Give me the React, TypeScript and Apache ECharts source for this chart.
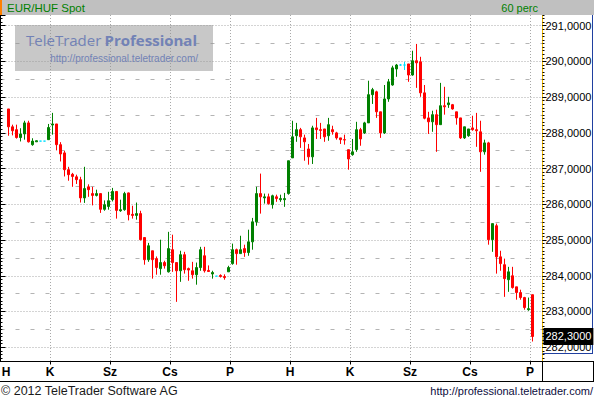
import React, { useEffect, useRef } from 'react';
import * as echarts from 'echarts';

// Hungarian weekday initials of the days covered (first one only partially visible)
const dayNames = ['H', 'K', 'Sz', 'Cs', 'P', 'H', 'K', 'Sz', 'Cs', 'P'];
const hoursPerDay = 15;
const firstCandleHour = 4; // the first visible 60-min candle is the 5th hour of day 0

const opens = [
  288.67, 288.17, 288.09, 287.87, 287.97, 288.28, 287.67, 287.75, 287.77, 287.77,
  287.81, 288.22, 288.25, 287.67, 287.44, 286.97, 286.84, 286.77, 286.69, 286.18,
  286.49, 286.30, 286.25, 286.30, 285.86, 285.94, 286.13, 286.36, 285.82, 285.85,
  286.32, 285.72, 285.69, 285.74, 285.07, 284.45, 284.70, 284.48, 284.20, 284.37,
  284.11, 284.73, 284.37, 284.14, 284.59, 284.20, 284.14, 284.03, 284.23, 284.56,
  284.15, 284.05, 283.99, 284.01, 283.98, 284.11, 284.34, 284.73, 284.62, 284.76,
  284.65, 284.95, 285.51, 286.30, 286.18, 286.21, 285.99, 286.21, 286.13, 286.13,
  286.30, 287.30, 287.92, 288.09, 287.86, 287.55, 287.33, 288.14, 288.09, 288.11,
  287.92, 288.09, 288.00, 287.86, 287.81, 287.53, 287.39, 287.53, 288.09, 288.00,
  288.28, 289.07, 289.15, 288.59, 288.00, 288.95, 289.34, 289.79, 289.90, 289.90,
  289.93, 289.62, 290.02, 289.99, 289.12, 288.42, 288.31, 288.51, 288.23, 288.76,
  288.79, 288.79, 288.59, 288.42, 287.86, 287.92, 288.14, 288.09, 288.03, 287.47,
  287.72, 285.01, 285.40, 284.53, 284.31, 283.89, 284.00, 283.69, 283.53, 283.39,
  283.05, 283.47,
];
const closes = [
  288.17, 288.06, 287.87, 287.97, 288.28, 287.75, 287.77, 287.78, 287.77, 287.77,
  288.15, 288.25, 287.67, 287.41, 286.97, 286.83, 286.78, 286.69, 286.18, 286.44,
  286.41, 286.25, 286.30, 285.86, 285.99, 286.10, 286.36, 285.83, 285.85, 286.30,
  285.71, 285.69, 285.74, 285.01, 284.45, 284.84, 284.45, 284.23, 284.37, 284.28,
  284.76, 284.37, 284.14, 284.59, 284.17, 284.16, 284.03, 284.23, 284.73, 284.14,
  284.12, 284.09, 283.99, 283.98, 283.95, 284.23, 284.73, 284.62, 284.73, 284.65,
  284.95, 285.51, 286.30, 286.21, 286.21, 286.02, 286.24, 286.16, 286.16, 286.16,
  287.22, 287.89, 288.09, 287.89, 287.75, 287.33, 288.14, 288.09, 288.07, 287.89,
  288.23, 288.03, 287.86, 287.81, 287.80, 287.27, 287.47, 288.09, 287.83, 288.28,
  289.07, 289.21, 288.59, 288.00, 288.95, 289.43, 289.82, 289.90, 289.90, 289.90,
  289.62, 290.02, 289.96, 289.12, 288.41, 288.31, 288.51, 288.23, 288.76, 288.73,
  288.84, 288.67, 288.42, 287.86, 288.17, 288.11, 288.09, 288.06, 287.47, 287.72,
  285.01, 285.46, 284.53, 284.34, 283.92, 284.11, 283.67, 283.53, 283.39, 283.11,
  283.08, 282.30,
];
const lows = [
  287.92, 287.93, 287.84, 287.76, 287.81, 287.73, 287.64, 287.75, 287.77, 287.77,
  287.80, 287.95, 287.51, 287.20, 286.78, 286.66, 286.49, 286.57, 286.05, 286.04,
  286.21, 285.97, 286.22, 285.76, 285.82, 285.85, 286.08, 285.60, 285.79, 285.82,
  285.55, 285.60, 285.57, 284.99, 284.31, 284.39, 283.92, 284.03, 284.03, 284.20,
  284.09, 284.11, 283.27, 283.83, 284.06, 283.86, 283.92, 283.75, 284.14, 284.09,
  284.12, 283.92, 283.99, 283.95, 283.89, 284.11, 284.31, 284.31, 284.62, 284.53,
  284.56, 284.73, 285.40, 285.74, 286.02, 285.99, 285.88, 286.07, 286.07, 285.93,
  286.27, 287.30, 287.75, 287.58, 287.22, 287.11, 287.13, 287.83, 287.83, 287.75,
  287.78, 287.95, 287.81, 287.69, 287.67, 286.97, 287.36, 287.47, 287.64, 287.97,
  288.28, 288.81, 288.42, 287.86, 287.97, 288.87, 289.32, 289.57, 289.88, 289.76,
  289.43, 289.60, 289.26, 289.01, 288.38, 287.97, 288.03, 287.47, 288.23, 288.51,
  288.70, 288.65, 288.23, 287.83, 287.83, 287.89, 288.06, 287.61, 286.91, 287.39,
  284.87, 284.67, 284.06, 284.14, 283.41, 283.55, 283.64, 283.33, 283.33, 283.05,
  283.02, 282.16,
];
const highs = [
  288.67, 288.23, 288.23, 288.13, 288.34, 288.34, 287.85, 287.79, 287.77, 287.77,
  288.25, 288.56, 288.25, 287.74, 287.50, 287.05, 286.88, 286.83, 286.77, 287.05,
  286.56, 286.49, 286.41, 286.30, 286.11, 286.35, 286.46, 286.36, 286.13, 286.35,
  286.33, 285.96, 286.05, 285.82, 285.07, 284.92, 284.70, 284.54, 285.01, 284.42,
  285.23, 285.15, 284.37, 284.70, 284.67, 284.23, 284.39, 284.37, 284.81, 284.81,
  284.29, 284.14, 283.99, 284.04, 284.04, 284.28, 284.90, 284.76, 285.12, 284.87,
  285.29, 285.62, 286.49, 286.86, 286.30, 286.30, 286.27, 286.27, 286.27, 286.32,
  287.22, 288.34, 288.28, 288.14, 287.95, 287.69, 288.20, 288.42, 288.28, 288.11,
  288.42, 288.20, 288.03, 287.86, 287.95, 287.53, 287.83, 288.31, 288.14, 288.31,
  289.46, 289.26, 289.18, 288.59, 289.34, 289.51, 289.88, 289.93, 289.93, 289.99,
  289.93, 290.30, 290.49, 290.13, 289.34, 288.59, 288.62, 288.65, 289.40, 289.29,
  289.01, 288.81, 288.59, 288.42, 288.17, 288.11, 288.48, 288.56, 288.34, 287.81,
  287.75, 285.46, 285.46, 284.70, 284.48, 284.25, 284.25, 283.69, 283.61, 283.41,
  283.39, 283.47,
];

const yMin = 281.6;
const yMax = 291.3;

const FONT = "'Liberation Sans', Arial, sans-serif";
const fmt = (v: number) => v.toFixed(4).replace('.', ',');

const labelFor = (k: number): string => {
  if (k === 0) return dayNames[0];
  if (k > 0 && (k + firstCandleHour) % hoursPerDay === 0) {
    const d = (k + firstCandleHour) / hoursPerDay;
    return dayNames[d] || '';
  }
  return '';
};
const isDayStart = (k: number) => k > 0 && (k + firstCandleHour) % hoursPerDay === 0;

export default function App() {
  const ref = useRef<HTMLDivElement>(null);

  useEffect(() => {
    if (!ref.current) return;
    const chart = echarts.init(ref.current, undefined, { renderer: 'svg' });

    const n = opens.length;
    // one empty slot before the first candle, two after the last
    const categories: string[] = [];
    for (let k = -1; k < n + 2; k++) categories.push(String(k));
    const candleData = opens.map((o, k) => [k + 1, o, closes[k], lows[k], highs[k]]);
    const lastClose = closes[n - 1];

    const hiddenAxisBase = {
      type: 'value',
      axisLine: { show: false },
      axisTick: { show: false },
      axisLabel: { show: false },
      splitLine: { show: false },
    };

    const option: any = {
      animation: false,
      backgroundColor: '#ffffff',
      grid: { left: 2.5, right: 51.5, top: 15, bottom: 37.5, containLabel: false, outerBoundsMode: 'none' },
      xAxis: {
        type: 'category',
        data: categories,
        boundaryGap: true,
        axisLine: { show: true, lineStyle: { color: '#000', width: 1 } },
        axisTick: {
          show: true,
          length: 3,
          interval: (i: number) => isDayStart(i - 1),
          lineStyle: { color: '#000' },
        },
        axisLabel: {
          show: true,
          interval: (i: number) => labelFor(i - 1) !== '',
          formatter: (v: string) => labelFor(Number(v)),
          color: '#000',
          fontFamily: FONT,
          fontSize: 12,
          fontWeight: 'bold',
          margin: 4,
          padding: [0, 5, 0, 0],
        },
        splitLine: {
          show: true,
          interval: (i: number) => isDayStart(i - 1),
          lineStyle: { color: '#a8a8a8', width: 1, type: [1, 2] },
        },
      },
      yAxis: [
        {
          // main price axis (right)
          type: 'value',
          position: 'right',
          min: yMin,
          max: yMax,
          minInterval: 1,
          maxInterval: 1,
          axisLine: { show: true, lineStyle: { color: '#f0b800', width: 1 } },
          axisTick: { show: true, length: 4, inside: false, lineStyle: { color: '#000' } },
          axisLabel: {
            show: true,
            formatter: (v: number) => fmt(v),
            color: '#000',
            fontFamily: FONT,
            fontSize: 11,
            margin: 3,
            showMinLabel: false,
            showMaxLabel: false,
          },
          splitLine: {
            show: true,
            showMinLine: false,
            showMaxLine: false,
            lineStyle: { color: '#a8a8a8', width: 1, type: [1, 2] },
          },
        },
        {
          // left scale with major ticks
          type: 'value',
          position: 'left',
          offset: 2,
          min: yMin,
          max: yMax,
          minInterval: 1,
          maxInterval: 1,
          axisLine: { show: true, lineStyle: { color: '#000', width: 1 } },
          axisTick: { show: true, inside: true, length: 5, lineStyle: { color: '#000' } },
          axisLabel: { show: false },
          splitLine: { show: false },
        },
        {
          // right minor ticks (tenths, axis in 0.1 units)
          ...hiddenAxisBase,
          position: 'right',
          min: yMin * 10,
          max: yMax * 10,
          minInterval: 1,
          maxInterval: 1,
          axisTick: { show: true, inside: false, length: 2, lineStyle: { color: '#000' } },
        },
        {
          // left minor ticks
          ...hiddenAxisBase,
          position: 'left',
          offset: 2,
          min: yMin * 10,
          max: yMax * 10,
          minInterval: 1,
          maxInterval: 1,
          axisTick: { show: true, inside: true, length: 2, lineStyle: { color: '#000' } },
        },
        {
          // half-unit grid dashes (axis value = 2 * price + 1)
          ...hiddenAxisBase,
          position: 'right',
          min: yMin * 2 + 1,
          max: yMax * 2 + 1,
          minInterval: 2,
          maxInterval: 2,
          splitLine: {
            show: true,
            showMinLine: false,
            showMaxLine: false,
            lineStyle: { color: '#b4b4b4', width: 1, type: [4, 11], dashOffset: 2 },
          },
        },
      ],
      series: [
        {
          type: 'candlestick',
          xAxisIndex: 0,
          yAxisIndex: 0,
          encode: { x: 0, y: [1, 2, 3, 4] },
          data: candleData,
          barWidth: 2,
          z: 3,
          itemStyle: {
            color: '#008000',
            color0: '#ff0000',
            borderColor: '#008000',
            borderColor0: '#ff0000',
            borderColorDoji: '#00e0ff',
            borderWidth: 1,
          },
          markLine: {
            silent: true,
            symbol: 'none',
            z: 60,
            lineStyle: { color: 'rgba(0,0,0,0)', width: 0, opacity: 1 },
            data: [{ yAxis: lastClose }],
            label: {
              show: true,
              position: 'end',
              distance: 1,
              opacity: 1,
              formatter: () => fmt(lastClose),
              color: '#ffffff',
              backgroundColor: '#000000',
              fontFamily: FONT,
              fontSize: 11,
              padding: [4, 2, 2, 2],
            },
          },
        },
      ],
      graphic: [
        // title bar
        { type: 'rect', z: 100, silent: true, shape: { x: 0, y: 0, width: 594, height: 15 }, style: { fill: '#c0c0c0' } },
        { type: 'rect', z: 101, silent: true, shape: { x: 0, y: 0, width: 2, height: 15 }, style: { fill: '#ff8000' } },
        {
          type: 'text', z: 101, silent: true, x: 7, y: 7.5,
          style: { text: 'EUR/HUF Spot', fill: '#008000', font: `11.5px ${FONT}`, textVerticalAlign: 'middle' },
        },
        {
          type: 'text', z: 101, silent: true, x: 538, y: 7.5,
          style: { text: '60 perc', fill: '#008000', font: `11px ${FONT}`, textAlign: 'right', textVerticalAlign: 'middle' },
        },
        // watermark
        { type: 'rect', z: 1, silent: true, shape: { x: 15, y: 25, width: 198, height: 46 }, style: { fill: 'rgba(145,145,145,0.5)' } },
        {
          type: 'text', z: 2, silent: true, x: 26, y: 40,
          style: { text: 'TeleTrader', fill: '#7282b6', font: `15px 'Open Sans', sans-serif`, textVerticalAlign: 'middle' },
        },
        {
          type: 'text', z: 2, silent: true, x: 197, y: 40,
          style: { text: 'Professional', fill: '#7282b6', font: `bold 15px 'Open Sans', sans-serif`, textAlign: 'right', textVerticalAlign: 'middle' },
        },
        {
          type: 'text', z: 2, silent: true, x: 198, y: 58,
          style: { text: 'http://professional.teletrader.com/', fill: '#7282b6', font: `10px ${FONT}`, textAlign: 'right', textVerticalAlign: 'middle' },
        },
        // right panel borders
        { type: 'line', z: 50, silent: true, shape: { x1: 592.5, y1: 15, x2: 592.5, y2: 353 }, style: { stroke: '#2040a0', lineWidth: 1 } },
        { type: 'line', z: 50, silent: true, shape: { x1: 542.5, y1: 353.5, x2: 593, y2: 353.5 }, style: { stroke: '#2040a0', lineWidth: 1 } },
        // x label band borders
        { type: 'line', z: 50, silent: true, shape: { x1: 0, y1: 361.5, x2: 594, y2: 361.5 }, style: { stroke: '#000', lineWidth: 1 } },
        { type: 'line', z: 50, silent: true, shape: { x1: 0, y1: 381.5, x2: 594, y2: 381.5 }, style: { stroke: '#000', lineWidth: 1 } },
        { type: 'line', z: 50, silent: true, shape: { x1: 542.5, y1: 361.5, x2: 542.5, y2: 381.5 }, style: { stroke: '#000', lineWidth: 1 } },
        { type: 'line', z: 50, silent: true, shape: { x1: 593.5, y1: 361.5, x2: 593.5, y2: 381.5 }, style: { stroke: '#000', lineWidth: 1 } },
        // footer
        {
          type: 'text', z: 50, silent: true, x: 1, y: 390.5,
          style: { text: '© 2012 TeleTrader Software AG', fill: '#1a1a1a', font: `12.5px ${FONT}`, textVerticalAlign: 'middle' },
        },
        {
          type: 'text', z: 50, silent: true, x: 593, y: 390.5,
          style: { text: 'http://professional.teletrader.com/', fill: '#0d0d40', font: `11px ${FONT}`, textAlign: 'right', textVerticalAlign: 'middle' },
        },
      ],
    };

    chart.setOption(option);
    return () => chart.dispose();
  }, []);

  return (
    <div
      ref={ref}
      style={{ position: 'fixed', left: 0, top: 0, width: 594, height: 399, background: '#fff' }}
    />
  );
}
